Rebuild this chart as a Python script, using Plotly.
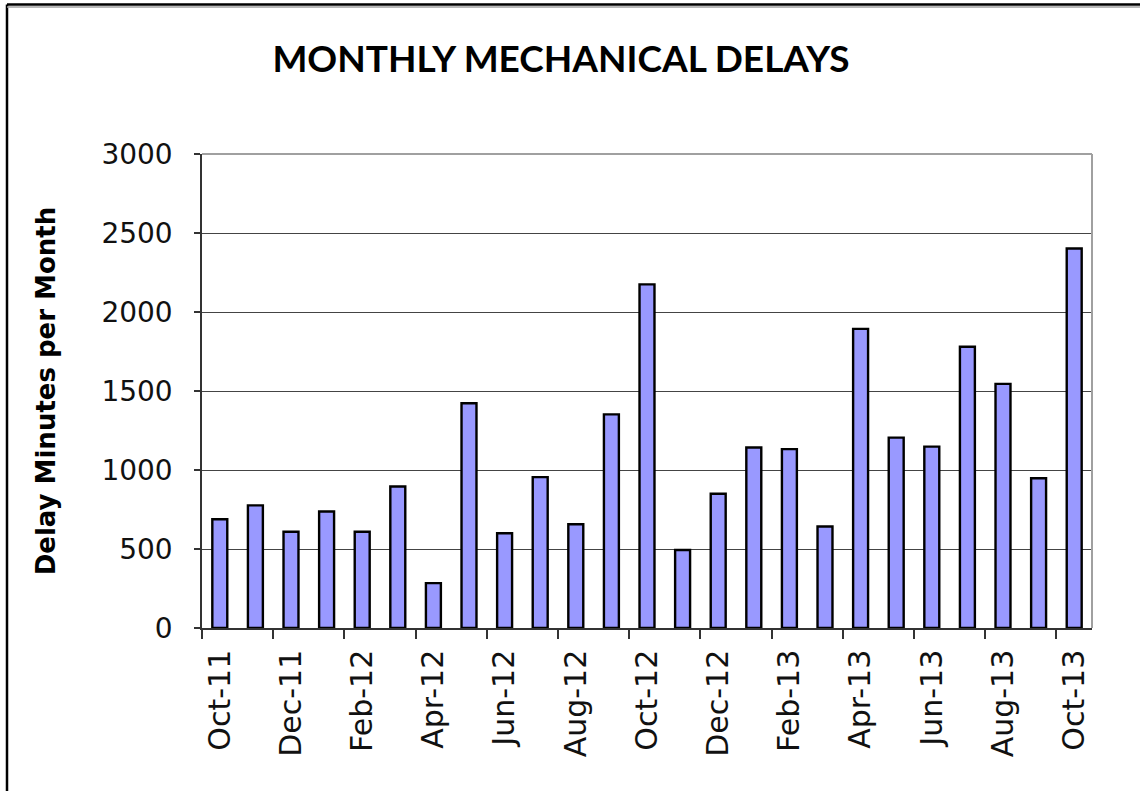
import plotly.graph_objects as go

months = ["Oct-11", "Nov-11", "Dec-11", "Jan-12", "Feb-12", "Mar-12", "Apr-12", "May-12",
          "Jun-12", "Jul-12", "Aug-12", "Sep-12", "Oct-12", "Nov-12", "Dec-12", "Jan-13",
          "Feb-13", "Mar-13", "Apr-13", "May-13", "Jun-13", "Jul-13", "Aug-13", "Sep-13", "Oct-13"]
delays = [688, 776, 609, 737, 609, 896, 284, 1422,
          600, 955, 657, 1352, 2175, 494, 850, 1142,
          1132, 642, 1893, 1205, 1148, 1780, 1545, 948, 2402]
y_ticks = [0, 500, 1000, 1500, 2000, 2500, 3000]

idx = list(range(len(months)))
label_idx = idx[::2]
label_txt = [months[i] for i in label_idx]
boundary_ticks = [i - 0.5 for i in idx[::2]]

TICKFONT = "DejaVu Sans"
TITLEFONT = "Lato"

fig = go.Figure()
fig.add_trace(go.Bar(
    x=idx, y=delays, width=0.42,
    marker=dict(color="#9999FF", line=dict(color="#000000", width=2.4)),
    showlegend=False,
))

L, R, T, B = 202, 48, 154, 163
W, H = 1140, 791
pw, ph = W - L - R, H - T - B

fig.update_layout(
    width=W, height=H,
    margin=dict(l=L, r=R, t=T, b=B),
    paper_bgcolor="white", plot_bgcolor="white",
    title=dict(text="<b>MONTHLY MECHANICAL DELAYS</b>", x=561 / W, xanchor="center",
               y=1 - 59 / H, yanchor="middle",
               font=dict(family=TITLEFONT, size=37, color="#000000")),
    xaxis=dict(
        range=[-0.5, len(months) - 0.5],
        tickmode="array", tickvals=label_idx, ticktext=label_txt,
        ticks="", tickangle=-90, ticklabelstandoff=8,
        tickfont=dict(family=TICKFONT, size=30, color="#111111"),
        showgrid=False, zeroline=False,
        showline=True, linecolor="#333333", linewidth=1.5,
        minor=dict(tickmode="array", tickvals=boundary_ticks, ticks="outside",
                   ticklen=9, tickcolor="#333333", tickwidth=1.5, showgrid=False),
    ),
    yaxis=dict(
        range=[0, 3000], tickmode="array", tickvals=y_ticks,
        ticks="outside", ticklen=6, tickcolor="#333333", tickwidth=1.5,
        ticklabelstandoff=16,
        tickfont=dict(family=TICKFONT, size=28, color="#111111"),
        showgrid=True, gridcolor="#444444", gridwidth=1.4,
        zeroline=False,
        showline=True, linecolor="#333333", linewidth=1.5,
        title=dict(text="<b>Delay Minutes per Month</b>",
                   font=dict(family=TICKFONT, size=26, color="#000000"), standoff=38),
    ),
    bargap=0.6,
)

# plot-area frame (top and right in gray)
fig.add_shape(type="line", xref="paper", yref="paper", x0=0, x1=1, y0=1, y1=1,
              line=dict(color="#A0A0A0", width=2), layer="above")
fig.add_shape(type="line", xref="paper", yref="paper", x0=1, x1=1, y0=0, y1=1,
              line=dict(color="#A0A0A0", width=2), layer="above")

# outer chart border (left and top visible)
bx = (7 - L) / pw
by = (H - B - 4.5) / ph
fig.add_shape(type="line", xref="paper", yref="paper", x0=bx, x1=bx, y0=-1, y1=by,
              line=dict(color="#000000", width=2.5))
fig.add_shape(type="line", xref="paper", yref="paper", x0=bx, x1=1.5, y0=by, y1=by,
              line=dict(color="#000000", width=2.5))
fig.add_shape(type="line", xref="paper", yref="paper", x0=bx, x1=1.5,
              y0=by - 2.5 / ph, y1=by - 2.5 / ph,
              line=dict(color="#A0A0A0", width=1.5))

fig.write_html("out.html", config={"displayModeBar": False},
               post_script="document.body.style.margin='0';document.body.style.padding='0';")
